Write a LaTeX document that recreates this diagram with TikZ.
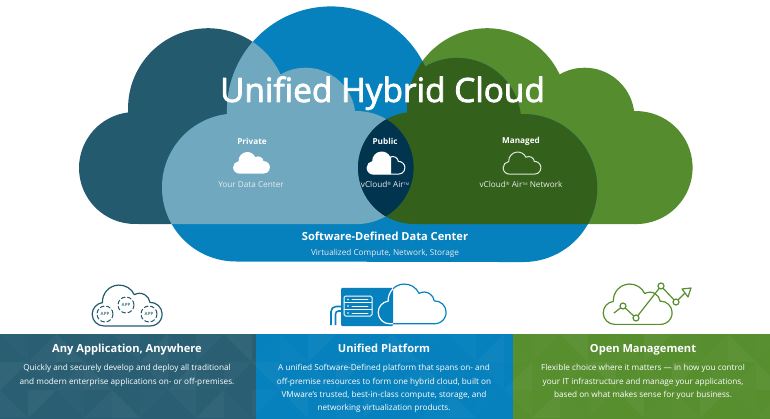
\documentclass[tikz,border=0pt]{standalone}
\usepackage{fontspec}
\setmainfont{Open Sans}
\newfontfamily\titlefont[FakeBold=2.4]{Open Sans}
\usetikzlibrary{arrows.meta}
\definecolor{cldark}{HTML}{245A6E}
\definecolor{clblue}{HTML}{0681BD}
\definecolor{clgreen}{HTML}{558D2E}
\definecolor{cllight}{HTML}{6FA8BF}
\definecolor{clmanaged}{HTML}{33601A}
\definecolor{clpublic}{HTML}{00344F}
\definecolor{bandgreen}{HTML}{578E2E}
\definecolor{banddark}{HTML}{2A5F73}
\newcommand{\regsign}{\raisebox{2pt}{\fontsize{4.5}{5}\selectfont®}}
\newcommand{\tmsign}{\raisebox{2.5pt}{\fontsize{3.6}{5}\selectfont TM}}
% same outline for the dark cloud, the green cloud and the icons
\def\sidecloud{(135,224) arc[start angle=90,end angle=263,radius=56]
	arc[start angle=177,end angle=335,radius=80]
	arc[start angle=240,end angle=352.4,radius=50]
	arc[start angle=268,end angle=450,radius=56.5] -- cycle}
\def\midcloud{(236,261.5) arc[start angle=90,end angle=263,radius=74]
	arc[start angle=178,end angle=335,radius=104]
	arc[start angle=240,end angle=353,radius=64]
	arc[start angle=268,end angle=450,radius=74] -- cycle}
\tikzset{
	cloudicon/.style n args={3}{shift={(#1,#2)},scale=#3,shift={(-78,-28)}},
	title/.style={text=white,anchor=base,font=\fontsize{33.4}{33}\titlefont},
	head/.style={text=white,font=\fontsize{8.2}{10}\selectfont\bfseries},
	sublabel/.style={text=white!92!black,anchor=base,font=\fontsize{8.2}{10}\selectfont},
	bandhead/.style={text=white,anchor=base,font=\fontsize{11.1}{14}\selectfont\bfseries},
	bandtext/.style={text=white!92,align=center,font=\fontsize{8.2}{13.3}\selectfont},
}
\begin{document}
\begin{tikzpicture}[line cap=round,line join=round,x=1pt,y=-1pt]
	\useasboundingbox (0,0) rectangle (770,419);
	%Clouds
	\fill[cldark] \sidecloud;
	\fill[clgreen,shift={(279,0)}] \sidecloud;
	\fill[clblue] \midcloud;
	\begin{scope}
		\clip \midcloud;
		\fill[cllight] \sidecloud;
		\fill[clmanaged,shift={(279,0)}] \sidecloud;
		\clip \sidecloud;
		\fill[clpublic,shift={(279,0)}] \sidecloud;
	\end{scope}
	\node[title] (title) at (382.5,102) {Unified Hybrid Cloud};
	\node[head] (private) at (252,141) {Private};
	\node[head] (public) at (385,141) {Public};
	\node[head] (managed) at (521,141) {Managed};
	\node[sublabel] (yourdc) at (251,187.7) {Your Data Center};
	\node[sublabel] (vcloud) at (385,187.7) {vCloud\regsign{} Air\tmsign};
	\node[sublabel] (vcloudnet) at (521,187.7) {vCloud\regsign{} Air\tmsign{} Network};
	\node[bandhead] (sddc) at (385,240.8) {Software-Defined Data Center};
	\node[sublabel] (virt) at (385,255.3) {Virtualized Compute, Network, Storage};
	%Small clouds
	\fill[white,cloudicon={233}{152}{.11}] \sidecloud;
	\begin{scope}
		\clip (360,148) rectangle (391,178);
		\fill[white,cloudicon={367}{152}{.113}] \sidecloud;
	\end{scope}
	\draw[white,line width=1pt,cloudicon={367}{152}{.113}] \sidecloud;
	\draw[white!85!clmanaged,line width=1pt,cloudicon={503}{152}{.113}] \sidecloud;
	%Bands
	\fill[banddark] (0,334) rectangle (256,419);
	\fill[clblue] (256,334) rectangle (513,419);
	\fill[bandgreen] (513,334) rectangle (770,419);
	\begin{scope}
		\clip (0,334) rectangle (770,419);
		\foreach \i in {0,...,27}
		\foreach \j in {0,1,2}{
			\pgfmathsetmacro{\shade}{1+1.5*mod(\i*7+\j*2,3)}
			\pgfmathtruncatemacro{\turn}{mod(\i*3+\j*5,4)*90}
			\fill[white,opacity=\shade/100,shift={(14+28*\i,348+28*\j)},rotate=\turn] (-14,-14)--(14,-14)--(14,14)--cycle;
		}
	\end{scope}
	\node[bandhead] (anyhead) at (127,352.5) {Any Application, Anywhere};
	\node[bandhead] (unihead) at (384,352.5) {Unified Platform};
	\node[bandhead] (openhead) at (643,352.5) {Open Management};
	\node[bandtext,anchor=north] (anytext) at (127,361) {Quickly and securely develop and deploy all traditional\\and modern enterprise applications on- or off-premises.};
	\node[bandtext,anchor=north] (unitext) at (384,361) {A unified Software-Defined platform that spans on- and\\off-premise resources to form one hybrid cloud, built on\\VMware's trusted, best-in-class compute, storage, and\\networking virtualization products.};
	\node[bandtext,anchor=north] (opentext) at (643,361) {Flexible choice where it matters — in how you control\\your IT infrastructure and manage your applications,\\based on what makes sense for your business.};
	%Icon left
	\draw[cldark,line width=1.2pt,cloudicon={92}{285}{.209}] \sidecloud;
	\foreach \x/\y in {105/314,126/305,149/314}{
		\draw[cldark,line width=1pt,dash pattern=on 4pt off 2.5pt] (\x,\y) circle[radius=8];
		\node[text=cldark!80,font=\fontsize{4.4}{5}\selectfont\bfseries] (app\x) at (\x,\y) {APP};
	}
	%Icon middle
	\fill[clblue,rounded corners=1pt] (341,288) rectangle (393,326);
	\draw[white,line width=1pt,rounded corners=1.5pt] (344,296) rectangle (372,316);
	\foreach \y in {302.5,309.5}
	\draw[white,line width=.8pt] (344,\y)--(372,\y);
	\foreach \y in {299.5,306,313}{
		\fill[white] (348,\y) circle[radius=.8];
		\draw[white,line width=.6pt] (352,\y)--(368,\y);
	}
	\draw[clblue,line width=1.6pt,rounded corners=5pt,line cap=butt] (331,325)--(331,306.5)--(341,306.5);
	\draw[clblue,line width=1.6pt,rounded corners=3pt,line cap=butt] (335.5,325)--(335.5,311)--(341,311);
	\begin{scope}
		\clip (393,280) rectangle (450,330);
		\draw[clblue,line width=1.2pt,cloudicon={378}{284}{.203}] \sidecloud;
	\end{scope}
	\begin{scope}
		\clip (370,280) rectangle (393,330);
		\draw[white,line width=1.2pt,cloudicon={378}{284}{.203}] \sidecloud;
	\end{scope}
	%Icon right
	\draw[bandgreen,line width=1.2pt,cloudicon={603}{284}{.206}] \sidecloud;
	\draw[bandgreen,line width=1.2pt] (614,313)--(623,306)--(636,318)--(661,286)--(676,302)--(685,293);
	\foreach \x/\y in {623/306,636/318,661/286,676/302}
	\draw[bandgreen,fill=white,line width=1.2pt] (\x,\y) circle[radius=3];
	\draw[bandgreen,fill=white,line width=1.2pt] (682,289)--(691,288)--(688,297)--cycle;
\end{tikzpicture}
\end{document}
